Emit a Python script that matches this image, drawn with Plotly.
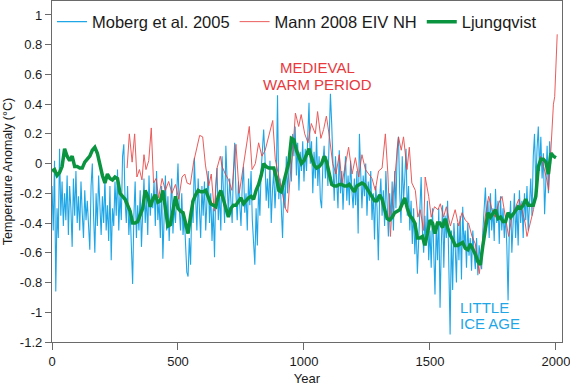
import plotly.graph_objects as go

# ---------------- data ----------------
moberg_years = list(range(0, 1980, 5)) + [1979]
moberg_vals = [
    # 0-95
    -0.15, -0.45, 0.02, -0.86, -0.30, -0.50, 0.10, -0.35, -0.12, -0.42,
    -0.20, -0.38, -0.08, -0.48, -0.15, -0.30, -0.56, -0.10, -0.35, -0.05,
    # 100-195
    -0.40, -0.22, -0.45, -0.12, -0.33, -0.50, -0.18, -0.38, -0.25, -0.45,
    -0.58, -0.15, 0.00, -0.35, -0.60, -0.20, -0.42, -0.08, -0.30, -0.48,
    # 200-295
    -0.22, -0.40, -0.10, -0.45, -0.28, -0.52, -0.15, -0.65, -0.30, -0.42,
    -0.12, -0.35, -0.04, -0.45, -0.20, -0.38, 0.05, 0.13, -0.25, -0.40,
    # 300-395
    -0.15, -0.48, -0.30, -0.55, -0.81, -0.35, -0.12, -0.50, -0.28, -0.45,
    -0.18, -0.56, -0.30, -0.10, -0.40, -0.22, -0.48, -0.08, -0.35, -0.20,
    # 400-495
    -0.30, -0.12, -0.42, -0.05, -0.38, -0.25, -0.50, -0.15, -0.64, -0.30,
    -0.08, -0.45, -0.22, -0.52, -0.35, -0.10, -0.47, -0.28, -0.40, -0.18,
    # 500-595
    0.00, -0.30, -0.45, -0.20, -0.48, -0.35, -0.55, -0.73, -0.76, -0.50,
    -0.68, -0.25, -0.40, 0.04, -0.22, -0.45, -0.10, -0.30, -0.50, -0.15,
    # 600-695
    -0.35, -0.12, -0.45, -0.25, -0.05, -0.40, -0.20, -0.52, -0.30, -0.63,
    -0.15, -0.03, -0.38, -0.20, -0.45, 0.05, -0.25, -0.40, 0.12, -0.15,
    # 700-795
    -0.35, -0.10, -0.28, -0.40, -0.05, 0.14, -0.20, -0.38, -0.12, -0.30,
    -0.42, -0.15, -0.02, -0.33, -0.20, -0.45, -0.10, -0.28, -0.05, -0.38,
    # 800-895
    -0.50, -0.68, -0.30, -0.55, -0.15, -0.35, -0.05, 0.10, 0.23, 0.05,
    -0.25, -0.10, -0.30, 0.02, -0.40, -0.18, -0.05, -0.30, -0.12, 0.46,
    # 900-995
    -0.24, -0.10, -0.35, -0.50, -0.15, -0.30, 0.05, -0.20, -0.05, 0.10,
    -0.12, 0.20, 0.05, 0.25, -0.08, 0.14, -0.18, 0.08, -0.05, 0.15,
    # 1000-1095
    -0.12, 0.10, -0.05, 0.20, 0.41, 0.00, 0.15, -0.20, 0.08, -0.10,
    0.18, -0.15, 0.05, -0.24, -0.30, 0.00, 0.12, -0.10, 0.05, -0.15,
    # 1100-1195
    0.10, 0.47, 0.27, -0.05, -0.25, 0.05, -0.15, -0.30, 0.09, -0.20,
    -0.05, -0.31, -0.10, 0.05, -0.25, -0.08, -0.28, 0.02, -0.18, -0.30,
    # 1200-1295
    -0.10, -0.28, -0.05, -0.47, 0.20, -0.15, -0.30, -0.08, -0.22, 0.00,
    -0.35, -0.12, -0.25, -0.05, -0.38, -0.20, -0.51, -0.15, -0.30, -0.65,
    # 1300-1395
    -0.25, -0.10, -0.35, -0.18, -0.42, -0.05, -0.30, -0.49, -0.20, -0.38,
    -0.12, -0.45, -0.05, -0.30, 0.10, 0.18, -0.20, -0.40, 0.05, -0.25,
    # 1400-1495
    -0.10, 0.10, -0.35, -0.15, -0.45, -0.25, -0.54, -0.30, -0.61, -0.40,
    -0.74, -0.50, -0.25, -0.09, -0.45, -0.60, -0.35, -0.55, -0.25, -0.65,
    # 1500-1595
    -0.45, -0.70, -0.30, -0.60, -0.88, -0.40, -0.65, -0.30, -0.97, -0.55,
    -0.28, -0.70, -0.35, -0.50, -0.25, -0.70, -1.15, -0.45, -0.85, -0.40,
    # 1600-1695
    -0.55, -0.80, -0.40, -0.65, -0.35, -0.78, -0.29, -0.55, -0.45, -0.70,
    -0.40, -0.62, -0.50, -0.72, -0.45, -0.60, -0.71, -0.50, -0.75, -0.55,
    # 1700-1795
    -0.65, -0.71, -0.45, -0.30, -0.16, -0.40, -0.25, -0.50, -0.20, -0.45,
    -0.30, -0.52, -0.17, -0.40, -0.25, -0.54, -0.22, -0.45, -0.30, -0.50,
    # 1800-1895
    -0.35, -0.55, -0.92, -0.45, -0.25, -0.60, -0.35, -0.20, -0.50, -0.28,
    -0.55, -0.18, -0.40, -0.25, -0.50, -0.20, -0.38, -0.15, -0.45, -0.25,
    # 1900-1975, 1979
    -0.10, -0.35, 0.05, 0.20, -0.15, 0.10, 0.25, -0.05, 0.18, -0.10,
    0.07, -0.34, -0.05, 0.12, -0.20, 0.15, 0.00,
]

mann_years = [
    298, 307, 318, 328, 337, 347, 357, 365, 373, 384, 394, 403, 413, 423, 437,
    450, 463, 476, 490, 503, 516, 527, 536, 549, 562, 575, 586, 598, 609, 622,
    632, 644, 655, 668, 675, 688, 701, 714, 730, 743, 757, 770, 783, 794, 807,
    820, 833, 846, 860, 876, 886, 899, 913, 926, 935, 946, 956, 966, 979, 989,
    1003, 1016, 1029, 1045, 1054, 1067, 1078, 1089, 1101, 1114, 1127, 1140,
    1151, 1164, 1177, 1191, 1204, 1217, 1230, 1244, 1257, 1270, 1283, 1296,
    1310, 1323, 1333, 1343, 1349, 1362, 1375, 1386, 1395, 1409, 1418, 1428,
    1442, 1452, 1461, 1475, 1481, 1495, 1505, 1518, 1532, 1541, 1554, 1565,
    1581, 1600, 1614, 1627, 1640, 1653, 1667, 1680, 1696, 1706, 1719, 1733,
    1746, 1759, 1772, 1786, 1799, 1812, 1825, 1839, 1852, 1865, 1878, 1885,
    1898, 1911, 1924, 1938, 1951, 1964, 1971, 1980, 1985, 1990, 1995, 2000, 2005,
]
mann_vals = [
    -0.03, 0.20, 0.01, 0.20, -0.09, -0.04, -0.11, 0.06, -0.04, 0.02, 0.24, -0.13, -0.10, -0.23, -0.10,
    -0.18, -0.12, -0.20, -0.14, -0.24, -0.09, -0.07, -0.13, -0.14, 0.01, 0.10, 0.19, 0.18, -0.01, -0.15,
    -0.07, -0.32, -0.03, 0.05, -0.02, -0.07, -0.11, -0.18, 0.13, -0.20, -0.04, 0.11, 0.25, -0.04, 0.00,
    0.14, 0.05, 0.09, 0.18, 0.29, 0.03, -0.07, -0.20, -0.30, -0.33, -0.07, 0.09, 0.34, 0.25, 0.33,
    0.20, 0.14, 0.27, 0.20, 0.35, 0.17, 0.23, 0.32, 0.18, 0.00, -0.07, 0.06,
    -0.13, 0.00, 0.11, -0.07, 0.04, -0.09, 0.06, -0.04, -0.07, -0.10, -0.18, -0.05,
    -0.03, 0.20, -0.07, -0.49, -0.31, -0.04, 0.18, 0.09, 0.18, -0.04, 0.11, -0.13,
    -0.18, -0.36, -0.31, -0.45, -0.09, -0.22, -0.36, -0.29, -0.31, -0.27, -0.36, -0.29,
    -0.42, -0.31, -0.42, -0.33, -0.38, -0.40, -0.49, -0.54, -0.74, -0.58, -0.36, -0.22,
    -0.31, -0.36, -0.27, -0.22, -0.36, -0.49, -0.36, -0.29, -0.24, -0.31, -0.40, -0.49,
    -0.40, -0.31, -0.13, 0.05, -0.02, -0.11, -0.18, 0.14, 0.30, 0.40, 0.45, 0.62, 0.87,
]

ljung_years = list(range(0, 2010, 10))
ljung_vals = [
    -0.05, -0.04, -0.08, -0.06, -0.02, 0.10, 0.05, 0.02, 0.05, -0.02,
    -0.02, -0.03, -0.03, 0.01, 0.03, 0.05, 0.09, 0.11, 0.07, -0.01,
    -0.08, -0.13, -0.07, -0.10, -0.11, -0.09, -0.10, -0.20, -0.22, -0.24,
    -0.28, -0.32, -0.40, -0.40, -0.39, -0.35, -0.30, -0.18, -0.22, -0.29,
    -0.24, -0.21, -0.26, -0.25, -0.18, -0.30, -0.42, -0.41, -0.30, -0.22,
    -0.30, -0.32, -0.33, -0.40, -0.47, -0.35, -0.25, -0.21, -0.18, -0.19,
    -0.19, -0.18, -0.22, -0.27, -0.28, -0.29, -0.22, -0.18, -0.24, -0.30,
    -0.36, -0.30, -0.28, -0.28, -0.25, -0.23, -0.27, -0.25, -0.23, -0.22,
    -0.24, -0.18, -0.14, -0.08, 0.00, -0.02, -0.03, -0.03, -0.03, -0.09,
    -0.18, -0.19, -0.13, -0.05, 0.01, 0.17, 0.16, 0.09, 0.04, 0.00,
    0.02, 0.06, 0.10, 0.04, -0.01, -0.03, -0.02, 0.00, 0.05, 0.01,
    -0.06, -0.14, -0.15, -0.15, -0.14, -0.14, -0.15, -0.15, -0.14, -0.17,
    -0.19, -0.15, -0.14, -0.13, -0.14, -0.17, -0.19, -0.23, -0.25, -0.25,
    -0.21, -0.24, -0.30, -0.37, -0.38, -0.36, -0.33, -0.32, -0.31, -0.27,
    -0.23, -0.30, -0.35, -0.37, -0.40, -0.50, -0.50, -0.49, -0.55, -0.47,
    -0.38, -0.40, -0.47, -0.40, -0.40, -0.43, -0.37, -0.43, -0.48, -0.51,
    -0.55, -0.55, -0.54, -0.53, -0.57, -0.58, -0.54, -0.57, -0.61, -0.66,
    -0.68, -0.55, -0.44, -0.33, -0.36, -0.33, -0.31, -0.37, -0.36, -0.39,
    -0.39, -0.33, -0.36, -0.34, -0.31, -0.29, -0.30, -0.28, -0.24, -0.28,
    -0.28, -0.28, -0.22, -0.02, 0.03, 0.03, 0.01, -0.07, 0.07, 0.05,
    0.04,
]

y_tickvals = [1, 0.8, 0.6, 0.4, 0.2, 0, -0.2, -0.4, -0.6, -0.8, -1, -1.2]
y_ticktext = ["1", "0.8", "0.6", "0.4", "0.2", "0", "-0.2", "-0.4", "-0.6", "-0.8", "-1", "-1.2"]
x_tickvals = [0, 500, 1000, 1500, 2000]

BLUE = "#1fa6e6"
RED = "#e83f3f"
GREEN = "#0a9440"
FONT = "Arial, Liberation Sans, sans-serif"

fig = go.Figure()
fig.add_trace(go.Scatter(x=moberg_years, y=moberg_vals, mode="lines",
                         name="Moberg et al. 2005",
                         line=dict(color=BLUE, width=1.1)))
fig.add_trace(go.Scatter(x=mann_years, y=mann_vals, mode="lines",
                         name="Mann 2008 EIV NH", opacity=0.85,
                         line=dict(color=RED, width=1.0)))
fig.add_trace(go.Scatter(x=ljung_years, y=ljung_vals, mode="lines",
                         name="Ljungqvist",
                         line=dict(color=GREEN, width=3.5)))

fig.add_annotation(x=1052, y=0.645, xref="x", yref="y", text="MEDIEVAL",
                   showarrow=False, font=dict(size=15, color="#e8393d", family=FONT))
fig.add_annotation(x=1052, y=0.532, xref="x", yref="y", text="WARM PERIOD",
                   showarrow=False, font=dict(size=15, color="#e8393d", family=FONT))
fig.add_annotation(x=1610, y=-0.965, xref="x", yref="y", text="LITTLE",
                   xanchor="left", showarrow=False,
                   font=dict(size=15, color="#1fa6e6", family=FONT))
fig.add_annotation(x=1610, y=-1.075, xref="x", yref="y", text="ICE AGE",
                   xanchor="left", showarrow=False,
                   font=dict(size=15, color="#1fa6e6", family=FONT))

axis_col = "#6a6a6a"
fig.update_layout(
    width=570, height=386,
    margin=dict(l=52, r=8, t=1, b=44, autoexpand=False),
    plot_bgcolor="white", paper_bgcolor="white",
    font=dict(family=FONT, size=13, color="#1a1a1a"),
    showlegend=True,
    legend=dict(orientation="h", x=0.0, y=0.99, xanchor="left", yanchor="top",
                font=dict(size=16.5, color="#1a1a1a"), bgcolor="rgba(0,0,0,0)",
                itemwidth=30, tracegroupgap=0),
    xaxis=dict(range=[0, 2024], tickvals=x_tickvals, ticks="outside", ticklen=7,
               tickcolor=axis_col, showline=True, linecolor=axis_col, linewidth=1.3,
               mirror=True, showgrid=False, zeroline=False, automargin=False,
               ticklabeloverflow="allow",
               title=dict(text="Year", font=dict(size=13), standoff=6),
               tickfont=dict(size=13)),
    yaxis=dict(range=[-1.2, 1.094], tickvals=y_tickvals, ticktext=y_ticktext,
               ticks="outside", ticklen=6, tickcolor=axis_col,
               showline=True, linecolor=axis_col, linewidth=1.3, mirror=True,
               showgrid=False, zeroline=False, automargin=False,
               ticklabeloverflow="allow",
               title=dict(text="Temperature Anomaly (°C)", font=dict(size=12.5), standoff=4),
               tickfont=dict(size=13)),
)

fig.write_html("out.html", config={"displayModeBar": False},
               post_script="document.body.style.margin='0';document.body.style.padding='0';")
